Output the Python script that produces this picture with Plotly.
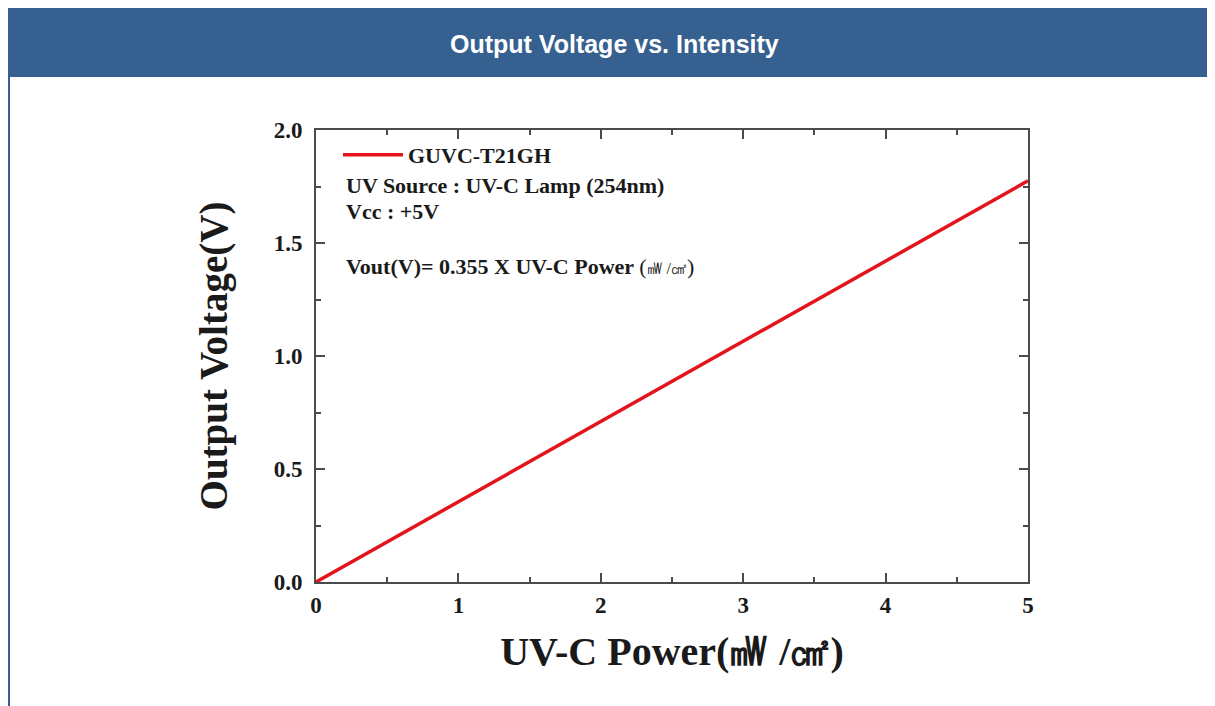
import plotly.graph_objects as go

# Data
series_name = "GUVC-T21GH"
uv_power = [0, 5]                 # mW/cm2
output_voltage = [0.0, 1.775]     # V  (0.355 * power)
x_ticks = [0, 1, 2, 3, 4, 5]
y_ticks = [0.0, 0.5, 1.0, 1.5, 2.0]

OFF = 8  # page body margin
W, H = 1215 - OFF, 706 - OFF
L, R, T, B = 316 - OFF, 1028 - OFF, 130 - OFF, 582 - OFF
pw, ph = R - L, B - T

def px(x):
    return (x - OFF - L) / pw

def py(y):
    return (B - (y - OFF)) / ph

serif = "Liberation Serif"
blue = "#36608f"
ink = "#1a1a1a"

fig = go.Figure()
fig.add_trace(go.Scatter(
    x=uv_power, y=output_voltage, mode="lines", name="<b>" + series_name + "</b>",
    line=dict(color="#e3141b", width=3.5),
))

axis_common = dict(
    showgrid=False, zeroline=False, showline=True, mirror="ticks",
    linecolor="#4a4a4a", linewidth=2, ticks="inside", ticklen=9,
    tickwidth=2, tickcolor="#4a4a4a",
    tickfont=dict(family=serif, size=23, color=ink),
)

fig.update_xaxes(
    range=[0, 5], tickvals=x_ticks, ticktext=[f"<b>{v}</b>" for v in x_ticks],
    minor=dict(ticks="inside", ticklen=5, tickwidth=2, tickcolor="#4a4a4a", dtick=0.5),
    title=dict(text="<b>UV-C Power(㎽ /㎠)</b>", font=dict(family=serif, size=40, color=ink), standoff=20),
    ticklabelstandoff=1,
    **axis_common,
)
fig.update_yaxes(
    range=[0, 2], tickvals=y_ticks, ticktext=[f"<b>{v:.1f}</b>" for v in y_ticks],
    minor=dict(ticks="inside", ticklen=5, tickwidth=2, tickcolor="#4a4a4a", dtick=0.25),
    title=dict(text="<b>Output Voltage(V)</b>", font=dict(family=serif, size=39, color=ink), standoff=34),
    ticklabelstandoff=7,
    **axis_common,
)

shapes = [
    # header banner
    dict(type="rect", xref="paper", yref="paper", x0=px(7), x1=px(1215), y0=py(77), y1=py(8),
         fillcolor=blue, line=dict(width=0), layer="below"),
    # left border
    dict(type="rect", xref="paper", yref="paper", x0=px(7), x1=px(10), y0=py(706), y1=py(77),
         fillcolor=blue, line=dict(width=0), layer="below"),
]

annotations = [
    dict(text="<b>Output Voltage vs. Intensity</b>", xref="paper", yref="paper",
         x=px(614), y=py(44), showarrow=False, xanchor="center", yanchor="middle",
         font=dict(family="Liberation Sans", size=25, color="white")),
    dict(text="<b>UV Source : UV-C Lamp (254nm)</b>", xref="paper", yref="paper",
         x=px(344), y=py(185), showarrow=False, xanchor="left", yanchor="middle",
         font=dict(family=serif, size=22, color=ink)),
    dict(text="<b>Vcc : +5V</b>", xref="paper", yref="paper",
         x=px(344), y=py(211), showarrow=False, xanchor="left", yanchor="middle",
         font=dict(family=serif, size=22, color=ink)),
    dict(text="<b>Vout(V)= 0.355 X UV-C Power </b>(<span style='font-size:16px'>㎽ /㎠</span>)", xref="paper", yref="paper",
         x=px(344), y=py(266), showarrow=False, xanchor="left", yanchor="middle",
         font=dict(family=serif, size=22, color=ink)),
]

fig.update_layout(
    width=W, height=H,
    margin=dict(l=L, r=W - R, t=T, b=H - B),
    paper_bgcolor="white", plot_bgcolor="white",
    shapes=shapes, annotations=annotations,
    showlegend=True,
    legend=dict(x=px(338), y=py(134), xanchor="left", yanchor="top",
                bgcolor="rgba(0,0,0,0)", itemwidth=60,
                font=dict(family=serif, size=22, color=ink),
                tracegroupgap=0),
)

fig.write_html("out.html")
